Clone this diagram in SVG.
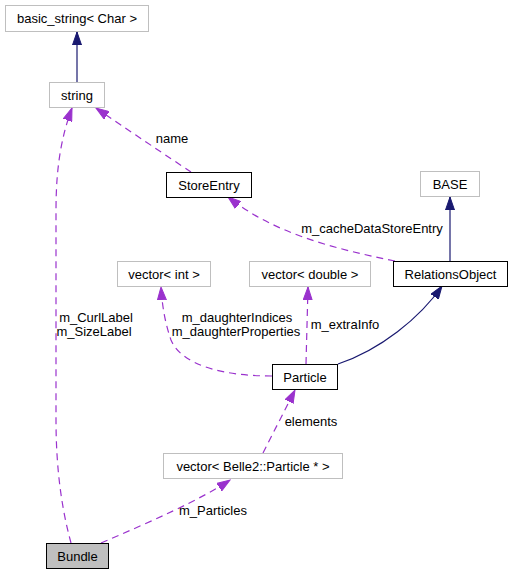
<svg xmlns="http://www.w3.org/2000/svg" width="513" height="575" viewBox="0 0 513 575">
<defs>
<style>
text{font-family:"Liberation Sans",Arial,sans-serif;font-size:13px;fill:#000;}
.n text{text-anchor:middle;}
.lbl{text-anchor:middle;}
.grey{fill:#fff;stroke:#bfbfbf;stroke-width:1;}
.blk{fill:#fff;stroke:#000;stroke-width:1;}
.cur{fill:#bfbfbf;stroke:#000;stroke-width:1;}
.inh{fill:none;stroke:#191970;stroke-width:1.2;}
.use{fill:none;stroke:#9a32cd;stroke-width:1.2;stroke-dasharray:7,5;}
</style>
<marker id="an" markerUnits="userSpaceOnUse" markerWidth="14" markerHeight="10" refX="13" refY="5" orient="auto"><path d="M0,0.5 L13,5 L0,9.5 z" fill="#191970" stroke="#191970"/></marker>
<marker id="ap" markerUnits="userSpaceOnUse" markerWidth="14" markerHeight="10" refX="13" refY="5" orient="auto"><path d="M0,0.5 L13,5 L0,9.5 z" fill="#9a32cd" stroke="#9a32cd"/></marker>
</defs>
<rect width="513" height="575" fill="#fff"/>
<g id="edges">
<path class="inh" d="M77,82 L77,32" marker-end="url(#an)"/>
<path class="use" d="M191,172 C170,158 125,128 96,108" marker-end="url(#ap)"/>
<path class="use" d="M71,543 C62,510 56,470 56,420 L56,210 C56,165 62,135 72,108" marker-end="url(#ap)"/>
<path class="use" d="M395,261 C330,248 272,232 228,197" marker-end="url(#ap)"/>
<path class="inh" d="M450,261 L450,197" marker-end="url(#an)"/>
<path class="inh" d="M338,364 C380,350 420,318 442,286" marker-end="url(#an)"/>
<path class="use" d="M272,376 C225,376 182,366 171,340 C164,320 162,302 161,287" marker-end="url(#ap)"/>
<path class="use" d="M306,364 L308,287" marker-end="url(#ap)"/>
<path class="use" d="M263,453 L295,390" marker-end="url(#ap)"/>
<path class="use" d="M101,543 C150,522 200,500 230,480" marker-end="url(#ap)"/>
<text class="lbl" x="172" y="142.5">name</text>
<text class="lbl" x="96" y="321.5">m_CurlLabel</text>
<text class="lbl" x="94" y="335.5">m_SizeLabel</text>
<text class="lbl" x="372" y="232.5">m_cacheDataStoreEntry</text>
<text class="lbl" x="237" y="321.5">m_daughterIndices</text>
<text class="lbl" x="236" y="335.5">m_daughterProperties</text>
<text class="lbl" x="345" y="328.5">m_extraInfo</text>
<text class="lbl" x="311" y="425.5">elements</text>
<text class="lbl" x="213" y="514.5">m_Particles</text>
</g>
<g id="node-basic_string" class="n"><rect class="grey" x="5.5" y="5.5" width="143" height="26"/><text x="77" y="23">basic_string&lt; Char &gt;</text></g>
<g id="node-string" class="n"><rect class="grey" x="49.5" y="82.5" width="55" height="25"/><text x="77" y="99.5">string</text></g>
<g id="node-StoreEntry" class="n"><rect class="blk" x="166.5" y="172.5" width="85" height="25"/><text x="209" y="189.5">StoreEntry</text></g>
<g id="node-BASE" class="n"><rect class="grey" x="420.5" y="171.5" width="59" height="25"/><text x="450" y="188.5">BASE</text></g>
<g id="node-RelationsObject" class="n"><rect class="blk" x="393.5" y="261.5" width="114" height="25"/><text x="450.5" y="278.5">RelationsObject</text></g>
<g id="node-vector-int" class="n"><rect class="grey" x="117.5" y="261.5" width="93" height="25"/><text x="164" y="278.5">vector&lt; int &gt;</text></g>
<g id="node-vector-double" class="n"><rect class="grey" x="249.5" y="261.5" width="121" height="25"/><text x="310" y="278.5">vector&lt; double &gt;</text></g>
<g id="node-Particle" class="n"><rect class="blk" x="272.5" y="364.5" width="65" height="25"/><text x="305" y="381.5">Particle</text></g>
<g id="node-vector-particle" class="n"><rect class="grey" x="163.5" y="453.5" width="179" height="25"/><text x="253" y="470.5">vector&lt; Belle2::Particle * &gt;</text></g>
<g id="node-Bundle" class="n"><rect class="cur" x="46.5" y="543.5" width="62" height="25"/><text x="77.5" y="560.5">Bundle</text></g>
</svg>
